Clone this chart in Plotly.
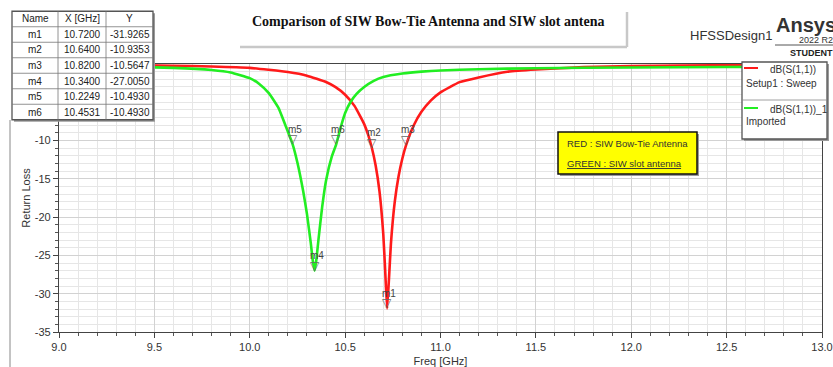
import plotly.graph_objects as go

# ---------------- data ----------------
red_f = [9.0, 9.3, 9.6, 9.8, 10.0, 10.1, 10.2, 10.3, 10.4, 10.45, 10.5, 10.55, 10.6, 10.62,
         10.64, 10.66, 10.68, 10.70, 10.71, 10.72, 10.73, 10.74, 10.76, 10.78, 10.80, 10.82,
         10.86, 10.9, 10.95, 11.0, 11.1, 11.2, 11.35, 11.5, 11.75, 12.0, 12.5, 13.0]
red_db = [-0.11, -0.15, -0.22, -0.32, -0.5, -0.76, -1.05, -1.52, -2.35, -3.03, -4.01, -5.5, -7.85, -9.2,
          -10.94, -13.26, -16.6, -22.2, -27.0, -31.93, -28.0, -23.5, -18.04, -14.7, -12.34, -10.56,
          -8.0, -6.25, -4.75, -3.7, -2.37, -1.75, -1.01, -0.72, -0.41, -0.28, -0.15, -0.09]

green_f = [9.0, 9.2, 9.4, 9.6, 9.8, 9.9, 10.0, 10.05, 10.1, 10.15, 10.19, 10.2249, 10.25, 10.28,
           10.30, 10.32, 10.33, 10.34, 10.35, 10.36, 10.38, 10.40, 10.43, 10.4531, 10.48, 10.50,
           10.53, 10.56, 10.6, 10.65, 10.7, 10.8, 10.9, 11.0, 11.2, 11.5, 12.0, 12.5, 13.0]
green_db = [-0.3, -0.33, -0.38, -0.5, -0.78, -1.1, -1.85, -2.6, -3.8, -5.7, -8.2, -10.493, -12.9, -16.6,
            -19.6, -23.4, -25.6, -27.005, -25.4, -23.0, -18.6, -15.2, -12.1, -10.493, -8.0, -6.4,
            -4.9, -3.9, -3.0, -2.2, -1.7, -1.25, -1.0, -0.85, -0.68, -0.55, -0.45, -0.4, -0.35]

marker_names = ["m1", "m2", "m3", "m4", "m5", "m6"]
marker_x = [10.7200, 10.6400, 10.8200, 10.3400, 10.2249, 10.4531]
marker_y = [-31.9265, -10.9353, -10.5647, -27.0050, -10.4930, -10.4930]

x_ticks = [9.0, 9.5, 10.0, 10.5, 11.0, 11.5, 12.0, 12.5, 13.0]
y_ticks = [-35, -30, -25, -20, -15, -10]

# ---------------- layout geometry (pixels) ----------------
W, H = 833, 367
L, R, T, B = 59, 822, 64, 332


def px(x):
    return (x - L) / (R - L)


def py(y):
    return (B - y) / (B - T)


fig = go.Figure()
fig.add_trace(go.Scatter(x=red_f, y=red_db, mode="lines", line=dict(color="#ff1a1a", width=2.6, shape="spline", smoothing=0.4),
                         showlegend=False, hoverinfo="skip"))
fig.add_trace(go.Scatter(x=green_f, y=green_db, mode="lines", line=dict(color="#22ee22", width=2.6, shape="spline", smoothing=0.4),
                         showlegend=False, hoverinfo="skip"))

shapes = []
ann = []
font_main = "Liberation Sans, Arial, sans-serif"


def rect(x0, y0, x1, y1, fill="white", line="#444", lw=1.0, shadow=True):
    if shadow:
        shapes.append(dict(type="rect", xref="paper", yref="paper", x0=px(x0 + 2), x1=px(x1 + 2),
                           y0=py(y1 + 2), y1=py(y0 + 2), fillcolor="#9a9a9a", line=dict(width=0), layer="above"))
    shapes.append(dict(type="rect", xref="paper", yref="paper", x0=px(x0), x1=px(x1), y0=py(y1), y1=py(y0),
                       fillcolor=fill, line=dict(color=line, width=lw), layer="above"))


def hline(x0, x1, y, color="#666", lw=1.0):
    shapes.append(dict(type="line", xref="paper", yref="paper", x0=px(x0), x1=px(x1), y0=py(y), y1=py(y),
                       line=dict(color=color, width=lw), layer="above"))


def vline(x, y0, y1, color="#666", lw=1.0):
    shapes.append(dict(type="line", xref="paper", yref="paper", x0=px(x), x1=px(x), y0=py(y0), y1=py(y1),
                       line=dict(color=color, width=lw), layer="above"))


def text(x, y, s, size=10, color="#222", xanchor="center", family=font_main, bold=False):
    if bold:
        s = "<b>" + s + "</b>"
    ann.append(dict(xref="paper", yref="paper", x=px(x), y=py(y), text=s, showarrow=False,
                    xanchor=xanchor, yanchor="middle", font=dict(size=size, color=color, family=family)))


# outer frame line at left
vline(10, 120, 367, color="#888", lw=1)

# ---- marker table ----
tx0, tx1 = 12, 153
cols = [12, 58, 106, 153]
ty0 = 11.25
rh = 15.5
nrows = 1 + len(marker_names)
rect(tx0, ty0, tx1, ty0 + nrows * rh, fill="white", line="#555", lw=1.3)
for i in range(1, nrows):
    hline(tx0, tx1, ty0 + i * rh, color="#777", lw=0.8)
for c in cols[1:-1]:
    vline(c, ty0, ty0 + nrows * rh, color="#777", lw=0.8)
header = ["Name", "X [GHz]", "Y"]
for j, h in enumerate(header):
    text((cols[j] + cols[j + 1]) / 2, ty0 + rh / 2, h, size=10)
for i, (n, xv, yv) in enumerate(zip(marker_names, marker_x, marker_y)):
    yc = ty0 + (i + 1.5) * rh
    text((cols[0] + cols[1]) / 2, yc, n, size=10)
    text((cols[1] + cols[2]) / 2, yc, f"{xv:.4f}", size=10)
    text((cols[2] + cols[3]) / 2, yc, f"{yv:.4f}", size=10)

# ---- title box ----
hline(240, 627, 47, color="#c8c8c8", lw=2.5)
vline(627, 12, 47, color="#c8c8c8", lw=2.5)
text(428, 21, "Comparison of SIW Bow-Tie Antenna and SIW slot antena", size=14, color="#111",
     family="Liberation Serif, Times New Roman, serif", bold=True)

# ---- Ansys branding ----
text(688, 35, "HFSSDesign1", size=13, color="#333", xanchor="left")
text(774, 25, "Ansys", size=20, color="#333", xanchor="left", bold=True)
text(797, 40, "2022 R2", size=9, color="#333", xanchor="left")
hline(775, 833, 45, color="#555", lw=1)
text(788, 53, "STUDENT", size=9, color="#222", xanchor="left", bold=True)

# ---- legend box ----
rect(742, 62, 827, 139, fill="white", line="#555", lw=1.3)
hline(742, 827, 100, color="#888", lw=0.8)
hline(744, 758, 68, color="#ff1a1a", lw=2)
hline(744, 758, 108, color="#22ee22", lw=2)
text(768, 69, "dB(S(1,1))", size=10, color="#333", xanchor="left")
text(744, 83, "Setup1 : Sweep", size=10, color="#333", xanchor="left")
text(768, 109, "dB(S(1,1))_1", size=10, color="#333", xanchor="left")
text(744, 122, "Imported", size=10, color="#333", xanchor="left")

# ---- yellow note box ----
rect(558, 132, 697, 174, fill="#ffff00", line="#111", lw=1.5)
text(565, 143, "RED : SIW Bow-Tie Antenna", size=9.5, color="#333", xanchor="left")
text(565, 163, "<u>GREEN : SIW slot antenna</u>", size=9.5, color="#333", xanchor="left")

# ---- marker glyphs on curves ----
for n, xv, yv in zip(marker_names, marker_x, marker_y):
    ann.append(dict(x=xv, y=yv, xref="x", yref="y", text="\u25bd", showarrow=False, yshift=5,
                    font=dict(size=12, color="#666", family="DejaVu Sans"), xanchor="center", yanchor="middle"))
    ann.append(dict(x=xv, y=yv, xref="x", yref="y", text=n, showarrow=False, yshift=15, xshift=2,
                    font=dict(size=10, color="#444", family=font_main), xanchor="center", yanchor="middle"))

fig.update_layout(
    width=W, height=H,
    margin=dict(l=L, r=W - R, t=T, b=H - B, pad=0, autoexpand=False),
    paper_bgcolor="white", plot_bgcolor="white",
    shapes=shapes, annotations=ann,
    font=dict(family=font_main, size=11, color="#333"),
    xaxis=dict(range=[9.0, 13.0], tickvals=x_ticks, ticktext=[f"{v:.1f}" for v in x_ticks],
               showgrid=True, gridcolor="#d2d2d2", gridwidth=1, automargin=False, ticklabeloverflow="allow",
               ticks="outside", ticklen=5, tickcolor="#444",
               showline=True, linecolor="#444", linewidth=1.3, mirror=True,
               minor=dict(dtick=0.1, ticks="outside", ticklen=3, tickcolor="#555", showgrid=True, gridcolor="#e6e6e6"),
               title=dict(text="Freq [GHz]", font=dict(size=11, color="#333"), standoff=4),
               tickfont=dict(size=11, color="#333"), zeroline=False),
    yaxis=dict(range=[-35, 0], tickvals=y_ticks, ticktext=[str(v) for v in y_ticks],
               showgrid=True, gridcolor="#d2d2d2", gridwidth=1, automargin=False, ticklabeloverflow="allow",
               ticks="outside", ticklen=5, tickcolor="#444",
               showline=True, linecolor="#444", linewidth=1.3, mirror=True,
               minor=dict(dtick=1, ticks="outside", ticklen=3, tickcolor="#555", showgrid=True, gridcolor="#e6e6e6"),
               title=dict(text="Return Loss", font=dict(size=11, color="#333"), standoff=1),
               tickfont=dict(size=11, color="#333"), zeroline=False),
)

fig.write_html("out.html", config={"displayModeBar": False},
               post_script="document.body.style.margin='0px';document.body.style.overflow='hidden';")
